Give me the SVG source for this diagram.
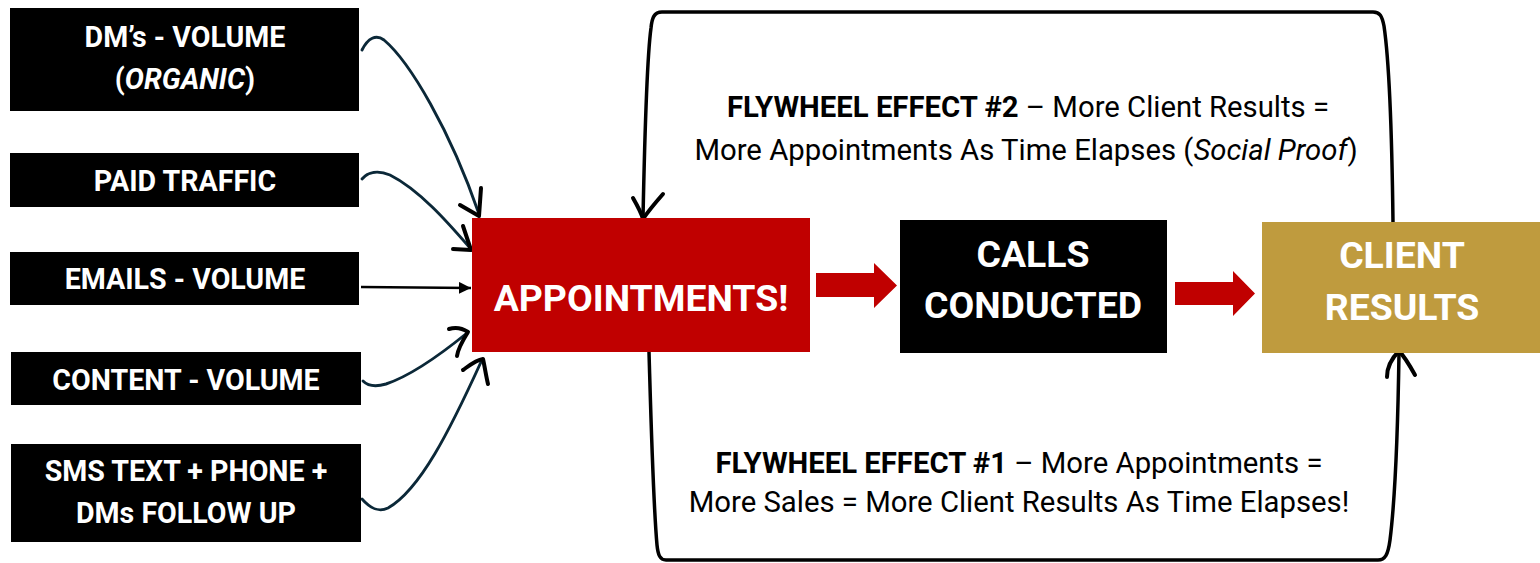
<svg xmlns="http://www.w3.org/2000/svg" width="1540" height="563" viewBox="0 0 1540 563">
<defs>
<style>
.box{fill:#000000}
.bt{font-family:Roboto,"Liberation Sans",sans-serif;font-weight:bold;fill:#ffffff;text-anchor:middle}
.s{font-size:28.6px}
.l{font-size:37.4px}
.ft{font-family:Roboto,"Liberation Sans",sans-serif;font-size:29.3px;fill:#000000;text-anchor:middle}
.cv{fill:none;stroke:#0b2838;stroke-width:2.9;stroke-linecap:round}
.ah{fill:none;stroke:#000000;stroke-width:4;stroke-linecap:round;stroke-linejoin:round}
.loop{fill:none;stroke:#000000;stroke-width:3.5;stroke-linecap:round;stroke-linejoin:round}
.ra{fill:#c00000}
</style>
<marker id="tri" viewBox="0 0 10 10" refX="10" refY="5" markerWidth="12" markerHeight="12" markerUnits="userSpaceOnUse" orient="auto">
<path d="M0,0 L10,5 L0,10 z" fill="#000"/>
</marker>
</defs>
<rect width="1540" height="563" fill="#ffffff"/>

<g id="connectors">
<path class="cv" d="M362,50 C368,38 376,34 384,40 C410,62 450,130 479,214"/>
<path class="ah" d="M460,205 L479,216 M481,188 L479,216"/>
<path class="cv" d="M362,179 C368,172 378,170 390,175 C420,190 450,225 470,248"/>
<path class="ah" d="M453,249 L471,250 M463,226 L471,250"/>
<path d="M361,287 L471,288" stroke="#000" stroke-width="2.4" fill="none" marker-end="url(#tri)"/>
<path class="cv" d="M363,381 C368,386 376,387 386,384 C410,376 440,355 467,333"/>
<path class="ah" d="M449,329 C455,327 462,328 468,332 C463,340 458,348 457,356"/>
<path class="cv" d="M362,499 C370,508 378,513 388,508 C420,490 450,430 481,362"/>
<path class="ah" d="M463,370 C470,365 476,360 483,359 C485,368 486,376 488,384"/>

<path class="loop" d="M643,218 C645,120 648,50 651,28 C652,18 654,12 662,12 L1373,12 C1380,12 1382,16 1384,26 C1389,60 1392,140 1393,222"/>
<path class="ah" d="M633,198 C637,205 641,212 643,219 C649,210 656,202 663,194"/>
<path class="loop" d="M649,352 C651,420 653,500 657,545 C658,555 660,560 666,560 L1378,560 C1385,560 1388,555 1390,540 C1395,500 1398,420 1399,353"/>
<path class="ah" d="M1387,377 C1387,368 1392,358 1399,351 C1405,357 1410,366 1415,375"/>

<path class="ra" d="M816,273 L874,273 L874,263 L897,285.5 L874,308 L874,297 L816,297 z"/>
<path class="ra" d="M1175,282 L1233,282 L1233,271 L1255,293.5 L1233,316 L1233,305 L1175,305 z"/>
</g>

<g id="n-dms">
<rect class="box" x="10" y="8" width="349" height="103"/>
<text class="bt s" x="185" y="47">DM’s - VOLUME</text>
<text class="bt s" x="185" y="89">(<tspan font-style="italic">ORGANIC</tspan>)</text>
</g>
<g id="n-paid">
<rect class="box" x="10" y="153" width="349" height="54"/>
<text class="bt s" x="185" y="191">PAID TRAFFIC</text>
</g>
<g id="n-emails">
<rect class="box" x="10" y="252" width="349" height="53"/>
<text class="bt s" x="185" y="289">EMAILS - VOLUME</text>
</g>
<g id="n-content">
<rect class="box" x="11" y="352" width="350" height="53"/>
<text class="bt s" x="186" y="390">CONTENT - VOLUME</text>
</g>
<g id="n-sms">
<rect class="box" x="11" y="444" width="350" height="98"/>
<text class="bt s" x="186" y="481">SMS TEXT + PHONE +</text>
<text class="bt s" x="186" y="523">DMs FOLLOW UP</text>
</g>

<g id="n-appointments">
<rect x="472" y="218" width="338" height="134" fill="#c00000"/>
<text class="bt l" x="641" y="311">APPOINTMENTS!</text>
</g>
<g id="n-calls">
<rect class="box" x="900" y="220" width="267" height="133"/>
<text class="bt l" x="1033" y="267">CALLS</text>
<text class="bt l" x="1033" y="318">CONDUCTED</text>
</g>
<g id="n-results">
<rect x="1262" y="222" width="278" height="131" fill="#bf9b3e"/>
<text class="bt l" x="1402" y="268">CLIENT</text>
<text class="bt l" x="1402" y="320">RESULTS</text>
</g>

<g id="t-flywheel2">
<text class="ft" x="1028" y="117"><tspan font-weight="bold">FLYWHEEL EFFECT #2</tspan> – More Client Results =</text>
<text class="ft" x="1026" y="160">More Appointments As Time Elapses (<tspan font-style="italic">Social Proof</tspan>)</text>
</g>
<g id="t-flywheel1">
<text class="ft" x="1019" y="473"><tspan font-weight="bold">FLYWHEEL EFFECT #1</tspan> – More Appointments =</text>
<text class="ft" x="1019" y="512">More Sales = More Client Results As Time Elapses!</text>
</g>
</svg>
